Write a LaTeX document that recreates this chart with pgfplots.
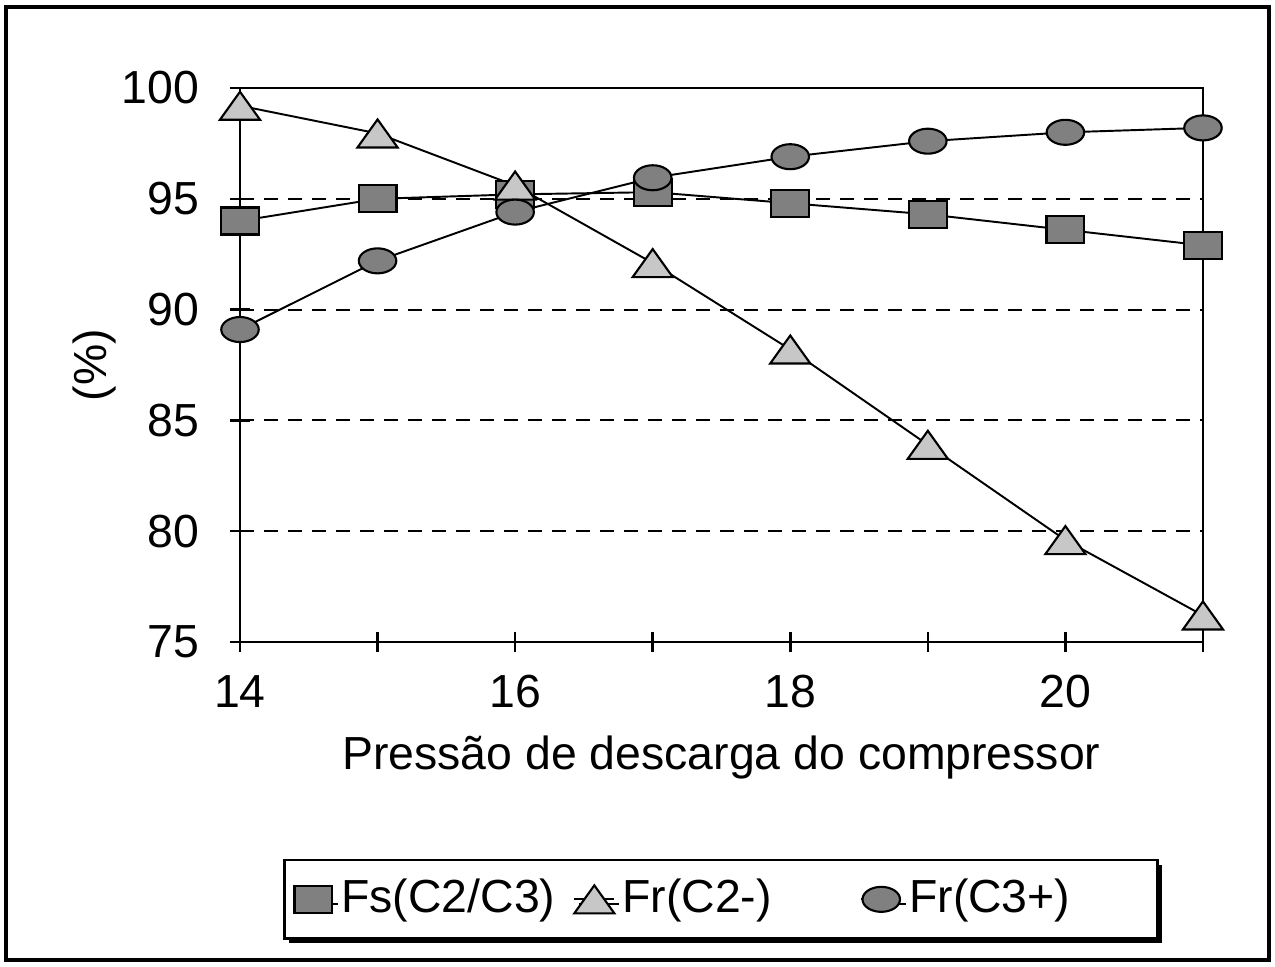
\documentclass[border=0pt]{standalone}
\usepackage{fontspec}
\setmainfont{Liberation Sans}
\usepackage{pgfplots}
\pgfplotsset{compat=1.18}
\usetikzlibrary{shadows}

\newcommand{\chartfont}{\fontsize{13.2pt}{15pt}\selectfont}

\begin{document}
\chartfont
\begin{tikzpicture}
\path[use as bounding box] (0,0) rectangle (12.75cm,9.66cm);
% outer chart frame
\draw[line width=0.35mm] (0.06cm,0.06cm) rectangle (12.69cm,9.59cm);
\begin{axis}[
  at={(2.40cm,3.24cm)}, anchor=south west,
  scale only axis, width=9.63cm, height=5.54cm,
  xmin=14, xmax=21, ymin=75, ymax=100,
  xtick={14,...,21}, xticklabels={14,,16,,18,,20,},
  ytick={75,80,...,100},
  tick pos=left, tick align=center, major tick length=2mm,
  axis line style={line width=0.7pt},
  tick style={line width=0.7pt, black},
  ymajorgrids,
  major grid style={black, line width=0.6pt, dash pattern=on 1.4mm off 1mm},
  /pgf/number format/assume math mode=true,
  tick label style={font=\chartfont},
  xticklabel style={anchor=base, yshift=-5.5mm},
  yticklabel style={anchor=east, xshift=-1.5mm},
  xlabel={Pressão de descarga do compressor},
  ylabel={(\%)},
  xlabel style={font=\chartfont, at={(axis description cs:0.5,-0.231)}, anchor=base},
  ylabel style={font=\chartfont, at={(axis description cs:-0.1506,0.5)}, anchor=center},
  legend image code/.code={%
    \draw[mark repeat=2,mark phase=2,#1] plot coordinates {(0cm,0cm) (0.2cm,0cm) (0.4cm,0cm)};},
  legend style={
    at={(axis description cs:0.0447,-0.538)}, anchor=south west,
    legend columns=3, draw=black, line width=0.8pt, fill=white,
    inner xsep=0.8mm, inner ysep=1.2mm,
    font=\chartfont,
    drop shadow={shadow xshift=0.45mm, shadow yshift=-0.45mm, fill=black, opacity=1},
    /tikz/every even column/.append style={column sep=0pt},
    nodes={inner sep=0.7mm}},
]
% Fs(C2/C3)
\addplot[black, line width=0.55pt, mark=square*, mark size=1.35mm,
  mark options={xscale=1.4, fill=black!50, draw=black, line width=0.6pt, solid}]
  coordinates {(14,94.0) (15,95.0) (16,95.2) (17,95.3) (18,94.8) (19,94.3) (20,93.6) (21,92.9)};
\addlegendentry{\makebox[22.5mm][l]{Fs(C2/C3)}}
% Fr(C2-)
\addplot[black, line width=0.55pt, mark=triangle*, mark size=1.87mm,
  mark options={xscale=1.24, yshift=-0.47mm, fill=black!22, draw=black, line width=0.6pt, solid}]
  coordinates {(14,99.2) (15,97.95) (16,95.6) (17,92.1) (18,88.2) (19,83.9) (20,79.6) (21,76.2)};
\addlegendentry{\makebox[23.1mm][l]{Fr(C2-)}}
% Fr(C3+)
\addplot[black, line width=0.55pt, mark=*, mark size=1.25mm,
  mark options={xscale=1.5, fill=black!50, draw=black, line width=0.6pt, solid}]
  coordinates {(14,89.1) (15,92.2) (16,94.4) (17,95.95) (18,96.9) (19,97.6) (20,98.0) (21,98.2)};
\addlegendentry{\makebox[23.3mm][l]{Fr(C3+)}}
\end{axis}
\end{tikzpicture}
\end{document}
